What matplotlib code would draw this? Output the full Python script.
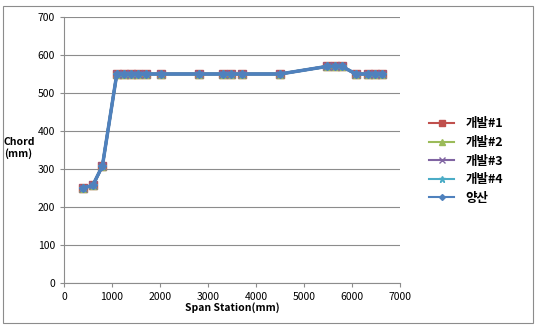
import matplotlib.pyplot as plt
import numpy as np
from matplotlib.patches import Rectangle
from matplotlib.lines import Line2D

plt.rcParams['font.family'] = ['Noto Sans CJK KR', 'DejaVu Sans']

span = np.array([400, 600, 800, 1100, 1250, 1400, 1550, 1700, 2020, 2810,
                 3310, 3480, 3710, 4500, 5480, 5650, 5790, 6080, 6330, 6480, 6620])
chord = np.array([250, 257, 308, 550, 550, 550, 550, 550, 550, 550,
                  550, 550, 550, 550, 570, 570, 570, 550, 550, 550, 550])

names = ['개발#1', '개발#2', '개발#3', '개발#4', '양산']
colors = ['#C0504D', '#9BBB59', '#8064A2', '#4BACC6', '#4F81BD']
markers = ['s', '^', 'x', '*', 'D']
sizes = [6, 6, 6, 6, 4]

fig = plt.figure(figsize=(5.36, 3.26), dpi=100)
ax = fig.add_axes([64/536, 1-283/326, 336/536, 266/326])

for i in range(5):
    lw = 2.5 if i == 4 else 2
    ax.plot(span, chord, color=colors[i], marker=markers[i], markersize=sizes[i],
            lw=lw, label=names[i])

ax.set_xlim(0, 7000)
ax.set_ylim(0, 700)
ax.set_xticks(np.arange(0, 7001, 1000))
ax.set_yticks(np.arange(0, 701, 100))
ax.grid(axis='y', color='#8c8c8c', lw=0.8)
ax.tick_params(labelsize=7.5, length=3, color='#8c8c8c', direction='out')
for s in ['top', 'right']:
    ax.spines[s].set_visible(False)
for s in ['left', 'bottom']:
    ax.spines[s].set_color('#8c8c8c')

ax.set_xlabel('Span Station(mm)', fontsize=7.5, fontweight='bold', labelpad=0)
fig.text(4/536, 1-148/326, 'Chord\n(mm)', fontsize=7.5, fontweight='bold',
         ha='left', va='center', linespacing=1.15)

handles = [Line2D([], [], color=colors[i], marker=markers[i], markersize=sizes[i] - 1,
                  lw=1.5) for i in range(5)]
leg = fig.legend(handles, names, loc='upper left', bbox_to_anchor=(418/536, 1-106/326),
                 frameon=False, fontsize=9, handlelength=2.0, handletextpad=0.9,
                 labelspacing=0.45)
for t in leg.get_texts():
    t.set_fontweight('bold')

fig.patches.append(Rectangle((3/536, 3/326), 530/536, 317/326, transform=fig.transFigure,
                             fill=False, edgecolor='#8c8c8c', lw=0.8))

fig.savefig('out.png', dpi=100)
